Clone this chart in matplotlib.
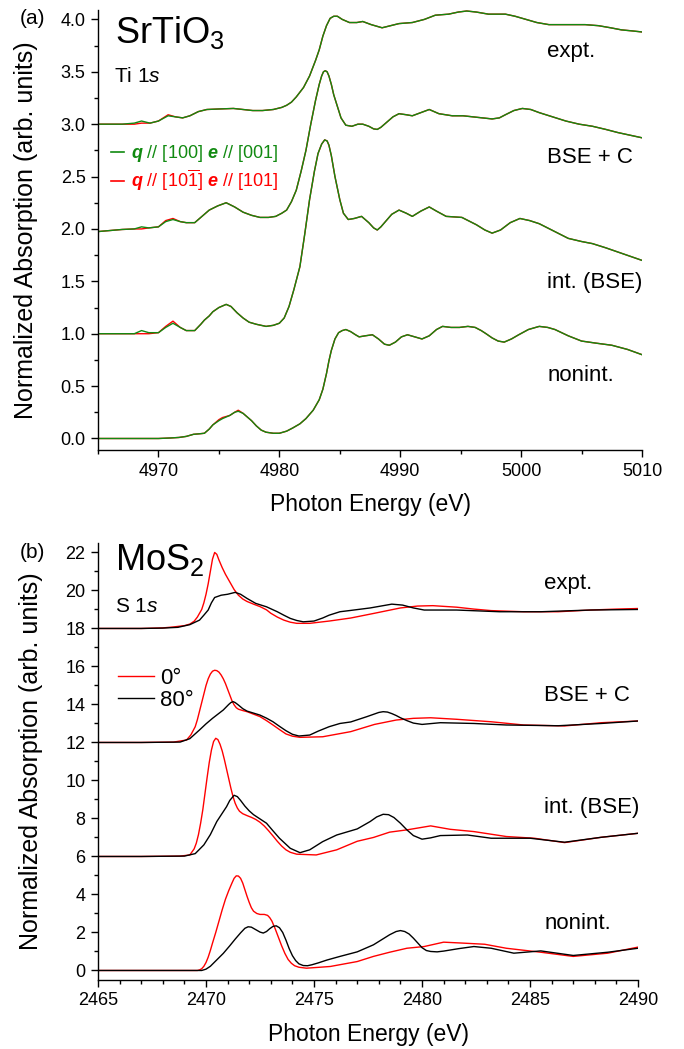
import numpy as np
import matplotlib
matplotlib.use('Agg')
import matplotlib.pyplot as plt
from matplotlib.ticker import MultipleLocator

plt.rcParams['font.family'] = ['Liberation Sans', 'DejaVu Sans']
plt.rcParams['mathtext.fontset'] = 'custom'
plt.rcParams['mathtext.rm'] = 'Liberation Sans'
plt.rcParams['mathtext.it'] = 'Liberation Sans:italic'
plt.rcParams['mathtext.bf'] = 'Liberation Sans:bold'
plt.rcParams['mathtext.bfit'] = 'Liberation Sans:italic:bold'

# ---------------- (a) SrTiO3, Ti 1s ----------------
e_expt = [4965, 4967, 4968, 4968.6, 4969.3, 4970.0, 4970.8, 4971.4, 4972.0, 4972.6, 4973.3, 4974.0,
          4975.0, 4976.2, 4977.0, 4977.8, 4978.6, 4979.5, 4980.2, 4980.6, 4981.0, 4981.4, 4982.0,
          4982.5, 4983.0, 4983.3, 4983.6, 4983.9, 4984.2, 4984.5, 4984.8, 4985.2, 4985.8, 4986.4,
          4986.9, 4987.6, 4988.5, 4989.2, 4989.9, 4991.0, 4992.0, 4992.9, 4994.0, 4994.8, 4995.5,
          4996.3, 4997.3, 4998.0, 4998.7, 4999.5, 5000.4, 5001.3, 5002.3, 5003.2, 5004.2, 5005.3,
          5006.4, 5007.4, 5008.3, 5009.2, 5010]
expt_green = [3.00, 3.00, 3.01, 3.03, 3.01, 3.03, 3.08, 3.07, 3.06, 3.08, 3.12, 3.14,
              3.145, 3.15, 3.14, 3.13, 3.13, 3.14, 3.16, 3.18, 3.21, 3.26, 3.35,
              3.46, 3.61, 3.71, 3.84, 3.94, 4.01, 4.03, 4.03, 4.00, 3.97, 3.97,
              3.98, 3.95, 3.92, 3.94, 3.96, 3.97, 4.00, 4.04, 4.05, 4.07, 4.08,
              4.07, 4.05, 4.05, 4.05, 4.03, 4.00, 3.97, 3.95, 3.95, 3.95, 3.95,
              3.94, 3.92, 3.90, 3.89, 3.88]
expt_red = [3.00, 3.00, 3.00, 3.01, 3.01, 3.03, 3.09, 3.07, 3.06, 3.08, 3.12, 3.14,
            3.145, 3.15, 3.14, 3.13, 3.13, 3.14, 3.16, 3.18, 3.21, 3.26, 3.35,
            3.46, 3.61, 3.71, 3.84, 3.94, 4.01, 4.03, 4.03, 4.00, 3.97, 3.97,
            3.98, 3.95, 3.92, 3.94, 3.96, 3.97, 4.00, 4.04, 4.05, 4.07, 4.08,
            4.07, 4.05, 4.05, 4.05, 4.03, 4.00, 3.97, 3.95, 3.95, 3.95, 3.95,
            3.94, 3.92, 3.90, 3.89, 3.88]

e_bsec = [4965, 4966, 4967, 4968, 4968.6, 4969.2, 4970.0, 4970.6, 4971.2, 4971.8, 4972.3, 4973.0,
          4973.6, 4974.2, 4974.9, 4975.6, 4976.3, 4977.0, 4977.7, 4978.4, 4979.1, 4979.7, 4980.2,
          4980.6, 4981.0, 4981.4, 4981.8, 4982.2, 4982.6, 4983.0, 4983.3, 4983.5, 4983.65, 4983.8,
          4983.95, 4984.1, 4984.3, 4984.5, 4984.8, 4985.1, 4985.5, 4986.0, 4986.5, 4986.9, 4987.4,
          4987.8, 4988.1, 4988.4, 4988.8, 4989.4, 4989.9, 4990.5, 4991.0, 4991.7, 4992.4, 4993.2,
          4994.3, 4995.2, 4996.0, 4996.8, 4997.6, 4998.2, 4998.7, 4999.4, 5000.1, 5000.8, 5001.5,
          5002.6, 5003.7, 5004.8, 5005.9, 5007.0, 5008.0, 5009.0, 5010]
bsec_green = [1.975, 1.985, 1.995, 2.00, 2.02, 2.01, 2.02, 2.07, 2.09, 2.07, 2.06, 2.06,
              2.12, 2.18, 2.22, 2.25, 2.21, 2.16, 2.13, 2.11, 2.11, 2.12, 2.15,
              2.18, 2.26, 2.37, 2.55, 2.75, 3.00, 3.23, 3.38, 3.46, 3.50, 3.51,
              3.50, 3.46, 3.38, 3.28, 3.17, 3.06, 2.99, 2.98, 3.00, 3.00, 2.98,
              2.955, 2.95, 2.97, 3.01, 3.07, 3.10, 3.09, 3.08, 3.11, 3.14, 3.10,
              3.08, 3.08, 3.07, 3.06, 3.05, 3.06, 3.09, 3.13, 3.15, 3.14, 3.11,
              3.07, 3.03, 3.00, 2.98, 2.95, 2.92, 2.895, 2.87]
bsec_red = [1.975, 1.985, 1.995, 2.00, 2.00, 2.01, 2.02, 2.08, 2.10, 2.07, 2.06, 2.06,
            2.12, 2.18, 2.22, 2.25, 2.21, 2.16, 2.13, 2.11, 2.11, 2.12, 2.15,
            2.18, 2.26, 2.37, 2.55, 2.75, 3.00, 3.23, 3.38, 3.46, 3.50, 3.51,
            3.50, 3.46, 3.38, 3.28, 3.17, 3.06, 2.99, 2.98, 3.00, 3.00, 2.98,
            2.955, 2.95, 2.97, 3.01, 3.07, 3.10, 3.09, 3.08, 3.11, 3.14, 3.10,
            3.08, 3.08, 3.07, 3.06, 3.05, 3.06, 3.09, 3.13, 3.15, 3.14, 3.11,
            3.07, 3.03, 3.00, 2.98, 2.95, 2.92, 2.895, 2.87]

e_int = [4965, 4967, 4968, 4968.6, 4969.2, 4970.0, 4970.6, 4971.2, 4971.8, 4972.3, 4973.0, 4973.5,
         4973.8, 4974.2, 4974.5, 4975.0, 4975.6, 4976.0, 4976.5, 4977.0, 4977.5, 4978.1, 4978.9,
         4979.5, 4980.0, 4980.4, 4980.8, 4981.2, 4981.7, 4982.1, 4982.5, 4982.9, 4983.2, 4983.5,
         4983.75, 4983.95, 4984.1, 4984.3, 4984.6, 4985.0, 4985.3, 4985.7, 4986.2, 4986.8, 4987.4,
         4987.8, 4988.1, 4988.4, 4988.7, 4989.3, 4989.9, 4990.5, 4991.0, 4991.7, 4992.4, 4993.0,
         4993.8, 4995.1, 4996.3, 4997.0, 4997.6, 4998.3, 4999.1, 4999.9, 5000.7, 5001.5, 5002.7,
         5003.9, 5005.0, 5005.9, 5007.0, 5008.0, 5009.0, 5010]
int_green = [1.00, 1.00, 1.00, 1.03, 1.01, 1.01, 1.06, 1.10, 1.06, 1.03, 1.03, 1.09,
             1.13, 1.17, 1.21, 1.25, 1.28, 1.26, 1.20, 1.15, 1.11, 1.09, 1.07,
             1.08, 1.10, 1.15, 1.26, 1.42, 1.64, 1.95, 2.28, 2.55, 2.72, 2.81,
             2.85, 2.84, 2.80, 2.70, 2.50, 2.28, 2.15, 2.09, 2.10, 2.12, 2.06,
             2.01, 1.99, 2.02, 2.06, 2.14, 2.18, 2.15, 2.12, 2.17, 2.21, 2.17,
             2.12, 2.11, 2.04, 1.99, 1.96, 1.99, 2.06, 2.10, 2.08, 2.05, 1.98,
             1.91, 1.88, 1.86, 1.82, 1.78, 1.74, 1.70]
int_red = [1.00, 1.00, 1.00, 1.00, 1.00, 1.01, 1.07, 1.12, 1.06, 1.03, 1.03, 1.09,
           1.13, 1.17, 1.21, 1.25, 1.28, 1.26, 1.20, 1.15, 1.11, 1.09, 1.07,
           1.08, 1.10, 1.15, 1.26, 1.42, 1.64, 1.95, 2.28, 2.55, 2.72, 2.81,
           2.85, 2.84, 2.80, 2.70, 2.50, 2.28, 2.15, 2.09, 2.10, 2.12, 2.06,
           2.01, 1.99, 2.02, 2.06, 2.14, 2.18, 2.15, 2.12, 2.17, 2.21, 2.17,
           2.12, 2.11, 2.04, 1.99, 1.96, 1.99, 2.06, 2.10, 2.08, 2.05, 1.98,
           1.91, 1.88, 1.86, 1.82, 1.78, 1.74, 1.70]

e_non = [4965, 4968, 4970, 4971.0, 4971.7, 4972.3, 4972.9, 4973.4, 4973.8, 4974.2, 4974.5, 4975.0,
         4975.3, 4975.9, 4976.3, 4976.6, 4977.0, 4977.3, 4977.7, 4978.1, 4978.5, 4978.9, 4979.5,
         4980.0, 4980.6, 4981.1, 4981.7, 4982.2, 4982.8, 4983.3, 4983.6, 4983.9, 4984.1, 4984.3,
         4984.6, 4984.9, 4985.2, 4985.5, 4985.9, 4986.3, 4986.6, 4987.1, 4987.7, 4988.2, 4988.7,
         4989.1, 4989.6, 4990.1, 4990.6, 4991.2, 4991.8, 4992.4, 4993.0, 4993.5, 4994.2, 4994.9,
         4995.6, 4996.2, 4996.7, 4997.1, 4997.6, 4998.1, 4998.6, 4999.2, 4999.8, 5000.6, 5001.5,
         5002.2, 5002.8, 5003.9, 5005.0, 5006.2, 5007.5, 5008.8, 5010]
non_green = [0.00, 0.00, 0.00, 0.005, 0.01, 0.02, 0.04, 0.045, 0.05, 0.09, 0.13, 0.17,
             0.19, 0.22, 0.25, 0.26, 0.24, 0.21, 0.17, 0.12, 0.08, 0.06, 0.05,
             0.05, 0.07, 0.10, 0.14, 0.19, 0.27, 0.37, 0.47, 0.62, 0.74, 0.84,
             0.95, 1.01, 1.03, 1.04, 1.02, 0.99, 0.97, 0.98, 0.99, 0.95, 0.90,
             0.89, 0.92, 0.97, 0.99, 0.97, 0.95, 0.98, 1.04, 1.07, 1.06, 1.06,
             1.07, 1.06, 1.03, 1.00, 0.96, 0.93, 0.92, 0.95, 0.99, 1.04, 1.07,
             1.06, 1.04, 0.98, 0.93, 0.91, 0.89, 0.85, 0.80]
non_red = [0.00, 0.00, 0.00, 0.005, 0.01, 0.02, 0.04, 0.045, 0.05, 0.09, 0.13, 0.18,
           0.20, 0.22, 0.25, 0.27, 0.24, 0.21, 0.17, 0.12, 0.08, 0.06, 0.05,
           0.05, 0.07, 0.10, 0.14, 0.19, 0.27, 0.37, 0.47, 0.62, 0.74, 0.84,
           0.95, 1.01, 1.03, 1.04, 1.02, 0.99, 0.97, 0.98, 0.99, 0.95, 0.90,
           0.89, 0.92, 0.97, 0.99, 0.97, 0.95, 0.98, 1.04, 1.07, 1.06, 1.06,
           1.07, 1.06, 1.03, 1.00, 0.96, 0.93, 0.92, 0.95, 0.99, 1.04, 1.07,
           1.06, 1.04, 0.98, 0.93, 0.91, 0.89, 0.85, 0.80]

# ---------------- (b) MoS2, S 1s ----------------
e_expt0 = [2465, 2467, 2468, 2468.5, 2469.0, 2469.25, 2469.45, 2469.6, 2469.8, 2469.9, 2470.0, 2470.1,
           2470.2, 2470.3, 2470.4, 2470.5, 2470.6, 2470.75, 2470.9, 2471.1, 2471.3, 2471.5, 2471.7,
           2471.9, 2472.2, 2472.5, 2472.8, 2473.0, 2473.3, 2473.6, 2473.9, 2474.2, 2474.8, 2475.7,
           2476.7, 2477.8, 2479.0, 2479.8, 2480.5, 2481.6, 2482.4, 2483.2, 2484.7, 2486.3, 2487.8,
           2489, 2490]
expt0 = [18.0, 18.0, 18.03, 18.08, 18.15, 18.23, 18.38, 18.6, 19.0, 19.35, 19.8, 20.35,
         21.0, 21.65, 22.0, 21.9, 21.6, 21.2, 20.85, 20.45, 20.05, 19.75, 19.55,
         19.42, 19.28, 19.15, 18.98, 18.8, 18.6, 18.44, 18.33, 18.27, 18.27, 18.39,
         18.55, 18.8, 19.08, 19.18, 19.2, 19.12, 19.02, 18.94, 18.88, 18.88, 18.97,
         19.02, 19.05]
e_expt80 = [2465, 2467, 2468, 2468.7, 2469.25, 2469.7, 2469.9, 2470.1, 2470.25, 2470.4, 2470.7, 2471.0,
            2471.35, 2471.6, 2471.9, 2472.3, 2472.8, 2473.3, 2473.6, 2473.9, 2474.2, 2474.5, 2475.0,
            2475.4, 2475.7, 2476.2, 2476.7, 2477.6, 2478.1, 2478.6, 2479.1, 2479.6, 2480.1, 2481.6,
            2483.6, 2485.5, 2487.8, 2490]
expt80 = [18.0, 18.0, 18.02, 18.06, 18.2, 18.44, 18.7, 18.97, 19.35, 19.63, 19.75, 19.8,
          19.9, 19.8, 19.58, 19.32, 19.14, 18.88, 18.7, 18.53, 18.42, 18.35, 18.39,
          18.55, 18.7, 18.88, 18.95, 19.08, 19.18, 19.28, 19.23, 19.08, 18.97, 18.97,
          18.88, 18.88, 18.97, 19.0]

e_bsec0 = [2465, 2467, 2468.5, 2469.1, 2469.3, 2469.5, 2469.6, 2469.7, 2469.8, 2469.9, 2470.0, 2470.1,
           2470.2, 2470.3, 2470.4, 2470.5, 2470.6, 2470.7, 2470.8, 2470.9, 2471.0, 2471.1, 2471.2,
           2471.3, 2471.4, 2471.5, 2471.7, 2471.9, 2472.5, 2472.8, 2473.1, 2473.4, 2473.7, 2474.0,
           2474.35, 2475.4, 2476.7, 2477.8, 2478.8, 2479.6, 2480.4, 2481.6, 2483.2, 2484.7, 2486.6,
           2488.3, 2490]
bsec0 = [12.0, 12.0, 12.02, 12.13, 12.4, 12.83, 13.2, 13.65, 14.1, 14.55, 15.0, 15.35,
         15.6, 15.75, 15.8, 15.78, 15.7, 15.55, 15.35, 15.1, 14.8, 14.5, 14.2,
         13.98, 13.83, 13.75, 13.68, 13.62, 13.36, 13.15, 12.92, 12.68, 12.45, 12.33,
         12.27, 12.3, 12.57, 12.95, 13.18, 13.27, 13.3, 13.22, 13.09, 12.92, 12.87,
         13.04, 13.13]
e_bsec80 = [2465, 2467, 2468.8, 2469.25, 2469.7, 2470.0, 2470.3, 2470.8, 2471.05, 2471.15, 2471.25, 2471.35,
            2471.5, 2471.7, 2471.9, 2472.5, 2472.8, 2473.1, 2473.4, 2473.7, 2474.0, 2474.3, 2474.8,
            2475.2, 2475.7, 2476.2, 2476.7, 2477.45, 2478.0, 2478.2, 2478.4, 2478.6, 2478.8, 2479.0,
            2479.3, 2479.6, 2480.0, 2480.85, 2482.4, 2483.9, 2486.3, 2488.3, 2490]
bsec80 = [12.0, 12.0, 12.02, 12.2, 12.66, 12.98, 13.27, 13.71, 14.0, 14.1, 14.15, 14.1,
          13.97, 13.78, 13.65, 13.44, 13.28, 13.09, 12.85, 12.62, 12.43, 12.34, 12.39,
          12.6, 12.83, 13.0, 13.08, 13.36, 13.58, 13.62, 13.6, 13.52, 13.42, 13.3,
          13.15, 13.02, 12.95, 13.04, 13.0, 12.92, 12.88, 13.0, 13.13]

e_int0 = [2465, 2467, 2468.8, 2469.25, 2469.45, 2469.55, 2469.65, 2469.75, 2469.85, 2469.95, 2470.05, 2470.15,
          2470.25, 2470.35, 2470.45, 2470.55, 2470.65, 2470.75, 2470.85, 2470.95, 2471.05, 2471.15, 2471.25,
          2471.35, 2471.45, 2471.55, 2471.7, 2471.9, 2472.1, 2472.3, 2472.5, 2472.7, 2472.9, 2473.1,
          2473.3, 2473.5, 2473.7, 2473.9, 2474.2, 2475.1, 2476.05, 2477.0, 2477.75, 2478.5, 2479.3,
          2480.4, 2481.3, 2482.4, 2483.9, 2485.2, 2486.6, 2488.3, 2490]
int0 = [6.0, 6.0, 6.02, 6.08, 6.4, 6.7, 7.15, 7.75, 8.45, 9.3, 10.15, 10.95,
        11.6, 12.05, 12.22, 12.15, 11.9, 11.55, 11.1, 10.6, 10.1, 9.6, 9.15,
        8.8, 8.55, 8.38, 8.25, 8.15, 8.06, 7.95, 7.8, 7.6, 7.35, 7.08,
        6.8, 6.55, 6.35, 6.22, 6.12, 6.08, 6.35, 6.8, 7.0, 7.28, 7.4,
        7.61, 7.43, 7.31, 7.05, 6.96, 6.73, 7.01, 7.22]
e_int80 = [2465, 2467, 2469.0, 2469.5, 2469.9, 2470.2, 2470.5, 2470.95, 2471.1, 2471.3, 2471.45, 2471.6,
           2471.8, 2472.0, 2472.2, 2472.8, 2473.1, 2473.4, 2473.9, 2474.35, 2474.8, 2475.4, 2476.05,
           2477.0, 2477.6, 2477.9, 2478.2, 2478.45, 2478.7, 2479.0, 2479.3, 2479.6, 2480.0, 2480.4,
           2480.85, 2482.1, 2483.2, 2485.0, 2486.6, 2488.3, 2490]
int80 = [6.0, 6.0, 6.02, 6.15, 6.61, 7.15, 7.84, 8.62, 8.95, 9.22, 9.15, 8.95,
         8.65, 8.4, 8.2, 7.75, 7.35, 6.96, 6.43, 6.2, 6.35, 6.78, 7.13,
         7.45, 7.84, 8.08, 8.22, 8.2, 8.05, 7.75, 7.4, 7.1, 6.91, 6.98,
         7.1, 7.13, 6.96, 6.96, 6.75, 7.01, 7.22]

e_non0 = [2465, 2469.6, 2469.7, 2469.8, 2469.9, 2470.0, 2470.1, 2470.2, 2470.3, 2470.45, 2470.6, 2470.75,
          2470.9, 2471.05, 2471.2, 2471.3, 2471.4, 2471.5, 2471.6, 2471.7, 2471.8, 2471.9, 2472.0,
          2472.1, 2472.2, 2472.35, 2472.5, 2472.7, 2472.85, 2472.95, 2473.05, 2473.2, 2473.35, 2473.5,
          2473.65, 2473.8, 2473.95, 2474.1, 2474.3, 2474.65, 2475.75, 2477.0, 2477.75, 2478.5, 2479.3,
          2480.1, 2481.0, 2481.9, 2482.9, 2483.9, 2485.5, 2487.0, 2488.6, 2490]
non0 = [0.0, 0.0, 0.03, 0.09, 0.22, 0.42, 0.7, 1.05, 1.44, 2.0, 2.6, 3.2,
        3.75, 4.2, 4.6, 4.85, 4.98, 4.97, 4.85, 4.6, 4.25, 3.9, 3.58,
        3.3, 3.12, 3.0, 2.95, 2.95, 2.9, 2.78, 2.6, 2.2, 1.75, 1.3,
        0.9, 0.58, 0.38, 0.25, 0.17, 0.12, 0.21, 0.47, 0.74, 0.96, 1.17,
        1.26, 1.49, 1.44, 1.38, 1.17, 0.96, 0.74, 0.91, 1.23]
e_non80 = [2465, 2469.8, 2470.0, 2470.2, 2470.5, 2470.8, 2471.1, 2471.35, 2471.6, 2471.8, 2471.95, 2472.1,
           2472.3, 2472.5, 2472.65, 2472.8, 2472.95, 2473.1, 2473.25, 2473.4, 2473.55, 2473.7, 2473.85,
           2474.0, 2474.15, 2474.3, 2474.5, 2474.7, 2474.9, 2475.2, 2475.6, 2476.2, 2477.0, 2477.75,
           2478.5, 2478.8, 2479.0, 2479.2, 2479.4, 2479.6, 2479.8, 2480.0, 2480.2, 2480.4, 2480.7,
           2481.0, 2481.7, 2482.4, 2483.2, 2484.25, 2485.5, 2487.0, 2488.6, 2490]
non80 = [0.0, 0.0, 0.07, 0.22, 0.56, 0.9, 1.3, 1.65, 1.98, 2.22, 2.3, 2.28,
         2.15, 2.02, 1.97, 2.05, 2.2, 2.32, 2.35, 2.25, 2.0, 1.6, 1.15,
         0.78, 0.52, 0.35, 0.26, 0.25, 0.3, 0.4, 0.55, 0.74, 0.98, 1.35,
         1.88, 2.05, 2.1, 2.05, 1.92, 1.7, 1.45, 1.2, 1.05, 1.0, 0.98,
         1.02, 1.15, 1.26, 1.17, 0.91, 1.03, 0.79, 0.96, 1.17]

labels = ['expt.', 'BSE + C', 'int. (BSE)', 'nonint.']
GREEN = '#118a11'
RED = '#ff0000'
BLACK = '#000000'


def style_axes(ax, xmaj, xmin, ymaj, ymin):
    for s in ['top', 'right']:
        ax.spines[s].set_visible(False)
    for s in ['left', 'bottom']:
        ax.spines[s].set_linewidth(1.0)
    ax.xaxis.set_major_locator(MultipleLocator(xmaj))
    ax.xaxis.set_minor_locator(MultipleLocator(xmin))
    ax.yaxis.set_major_locator(MultipleLocator(ymaj))
    ax.yaxis.set_minor_locator(MultipleLocator(ymin))
    ax.tick_params(which='major', direction='out', length=5, width=1.0, labelsize=13, pad=4)
    ax.tick_params(which='minor', direction='out', length=3, width=1.0)
    ax.set_xlabel('Photon Energy (eV)', fontsize=16.5, labelpad=10)
    ax.set_ylabel('Normalized Absorption (arb. units)', fontsize=18, labelpad=16)


fig = plt.figure(figsize=(6.84, 10.49), dpi=100)

# panel (a)
ax1 = fig.add_axes([0.1433, 0.5710, 0.7953, 0.4195])
for e, g, r in [(e_expt, expt_green, expt_red), (e_bsec, bsec_green, bsec_red),
                (e_int, int_green, int_red), (e_non, non_green, non_red)]:
    ax1.plot(e, r, color=RED, lw=1.0)
    ax1.plot(e, g, color=GREEN, lw=1.0)
ax1.set_xlim(4965, 5010)
ax1.set_ylim(-0.11, 4.09)
style_axes(ax1, 10, 5, 0.5, 0.25)

hg, = ax1.plot([], [], color=GREEN, lw=1.2)
hr, = ax1.plot([], [], color=RED, lw=1.2)
ax1.legend([hg, hr],
           [r'$\mathbfit{q}$ // [100] $\mathbfit{e}$ // [001]',
            r'$\mathbfit{q}$ // [10$\overline{1}$] $\mathbfit{e}$ // [101]'],
           loc='upper left', bbox_to_anchor=(-0.006, 0.735), frameon=False, fontsize=13,
           handlelength=0.7, handletextpad=0.4, labelspacing=0.2, labelcolor='linecolor')

ax1.text(0.031, 0.925, r'SrTiO$_3$', transform=ax1.transAxes, fontsize=26, va='baseline')
ax1.text(0.029, 0.836, r'Ti 1$s$', transform=ax1.transAxes, fontsize=15, va='baseline')
for lab, yf in zip(labels, [0.905, 0.664, 0.380, 0.170]):
    ax1.text(0.826, yf, lab, transform=ax1.transAxes, fontsize=16, va='center')

# panel (b)
ax2 = fig.add_axes([0.1433, 0.0658, 0.7895, 0.4166])
ax2.plot(e_expt0, expt0, color=RED, lw=1.0, label='0°')
ax2.plot(e_expt80, expt80, color=BLACK, lw=1.0, label='80°')
for e0, v0, e8, v8 in [(e_bsec0, bsec0, e_bsec80, bsec80), (e_int0, int0, e_int80, int80),
                       (e_non0, non0, e_non80, non80)]:
    ax2.plot(e0, v0, color=RED, lw=1.0)
    ax2.plot(e8, v8, color=BLACK, lw=1.0)
ax2.set_xlim(2465, 2490)
ax2.set_ylim(-0.5, 22.5)
style_axes(ax2, 5, 1, 2, 1)
ax2.legend(loc='upper left', bbox_to_anchor=(0.0, 0.76), frameon=False, fontsize=16,
           handlelength=1.6, handletextpad=0.3, labelspacing=0.05)

ax2.text(0.031, 0.938, r'MoS$_2$', transform=ax2.transAxes, fontsize=26, va='baseline')
ax2.text(0.031, 0.842, r'S 1$s$', transform=ax2.transAxes, fontsize=15, va='baseline')
for lab, yf in zip(labels, [0.908, 0.652, 0.394, 0.130]):
    ax2.text(0.826, yf, lab, transform=ax2.transAxes, fontsize=16, va='center')

fig.text(20 / 684, 1 - 18 / 1049, '(a)', fontsize=15, va='center')
fig.text(20 / 684, 1 - 553 / 1049, '(b)', fontsize=15, va='center')

fig.savefig('out.png', dpi=100)
